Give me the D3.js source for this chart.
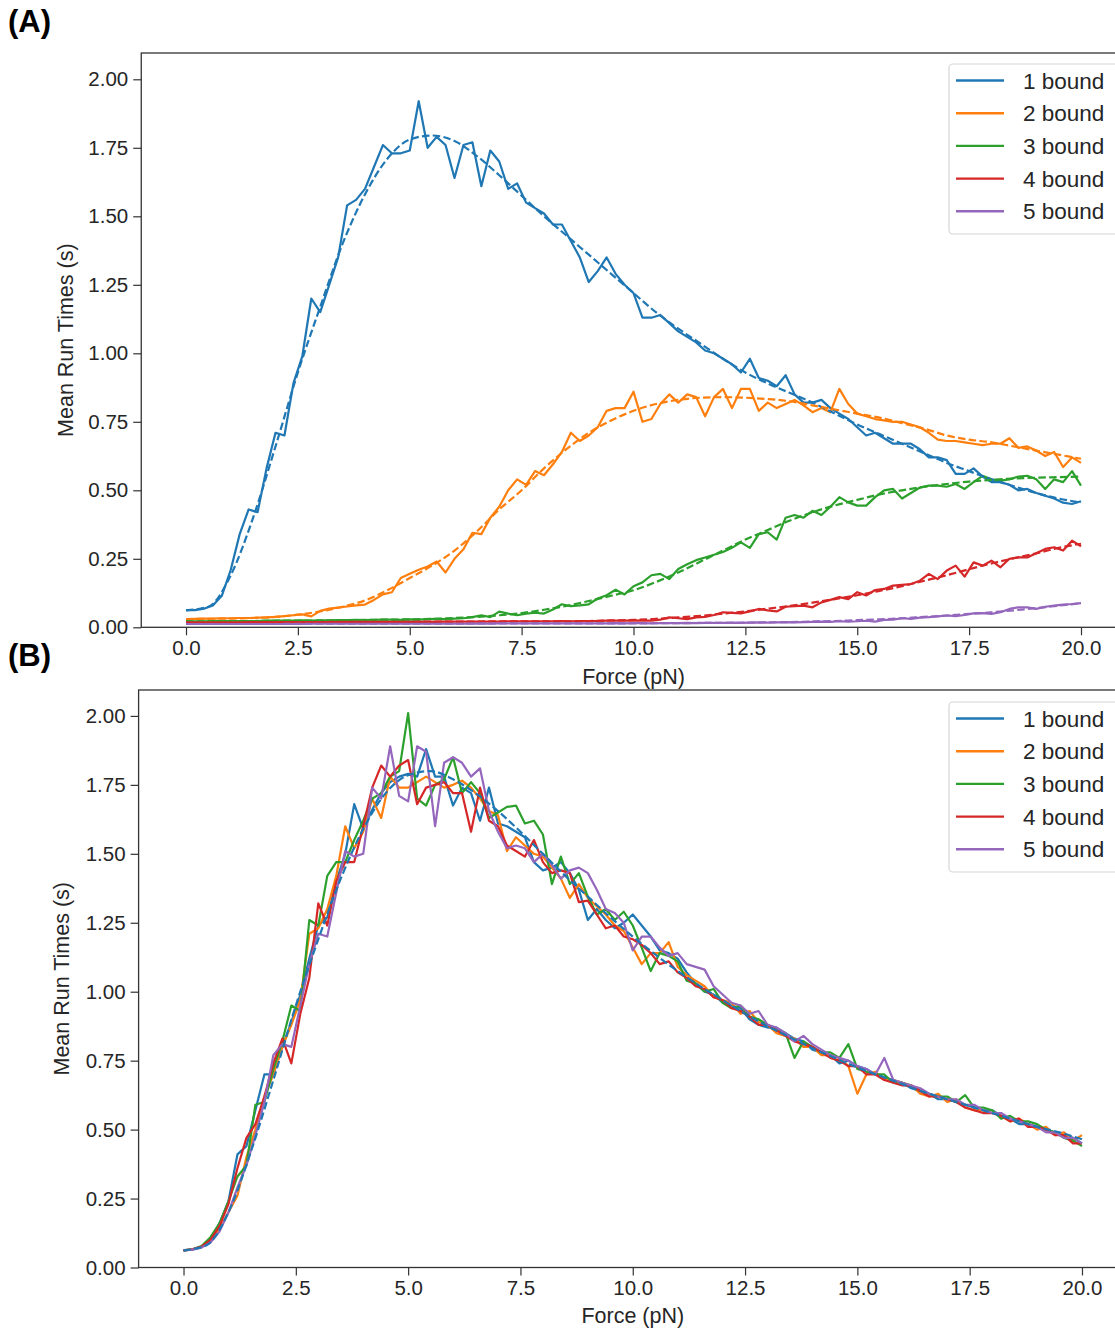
<!DOCTYPE html>
<html><head><meta charset="utf-8">
<script src="https://cdn.jsdelivr.net/npm/d3@7"></script>
<style>
body{margin:0;background:#fff;overflow:hidden;}
svg{display:block;font-family:"Liberation Sans",Arial,sans-serif;}
</style>
</head><body>
<svg id="chart" width="1115" height="1329"></svg>
<script>
const seriesNames = ["1 bound","2 bound","3 bound","4 bound","5 bound"];
const seriesColors = ["#1f77b4","#ff7f0e","#2ca02c","#d62728","#9467bd"];
const xTickValues = [0,2.5,5,7.5,10,12.5,15,17.5,20];
const yTickValues = [0,0.25,0.5,0.75,1,1.25,1.5,1.75,2];
const xLabel = "Force (pN)";
const yLabel = "Mean Run Times (s)";
// force grids (pN)
const forceGrid = d3.range(0,101).map(i => +(i*0.2).toFixed(1));
const fitGrid = d3.range(0,41).map(i => i*0.5);

// ---- Panel A : measured mean run times ----
const aBound1 = [0.063,0.063,0.068,0.080,0.115, 0.21,0.34,0.43,0.42,0.58, 0.71,0.70,0.89,0.99,1.20,
 1.15,1.25,1.35,1.54,1.56, 1.60,1.68,1.76,1.73,1.73, 1.74,1.92,1.75,1.79,1.76, 1.64,1.76,1.77,1.61,1.74,
 1.70,1.60,1.62,1.55,1.53, 1.51,1.47,1.47,1.41,1.35, 1.26,1.30,1.35,1.29,1.25, 1.22,1.13,1.13,1.14,1.11,
 1.08,1.06,1.04,1.01,1.00, 0.98,0.96,0.93,0.98,0.91, 0.90,0.88,0.92,0.85,0.82, 0.82,0.83,0.80,0.78,0.76,
 0.73,0.70,0.71,0.69,0.67, 0.67,0.67,0.65,0.62,0.62, 0.61,0.56,0.56,0.58,0.55, 0.53,0.53,0.52,0.50,0.505,
 0.49,0.48,0.47,0.455,0.45, 0.46];
const aBound2 = [0.030,0.031,0.032,0.032,0.033, 0.033,0.034,0.034,0.035,0.036, 0.038,0.041,0.044,0.047,0.040,
 0.060,0.068,0.072,0.076,0.080, 0.083,0.100,0.120,0.128,0.180, 0.195,0.210,0.222,0.240,0.200,
 0.250,0.285,0.345,0.340,0.400, 0.440,0.500,0.540,0.520,0.570, 0.555,0.595,0.640,0.710,0.680,
 0.700,0.730,0.790,0.800,0.800, 0.860,0.750,0.760,0.815,0.850, 0.820,0.850,0.840,0.770,0.840,
 0.870,0.800,0.870,0.870,0.790, 0.820,0.800,0.815,0.830,0.810, 0.785,0.800,0.785,0.870,0.815,
 0.780,0.770,0.760,0.755,0.750, 0.750,0.740,0.730,0.710,0.685, 0.680,0.680,0.675,0.670,0.665,
 0.670,0.670,0.690,0.655,0.660, 0.645,0.625,0.640,0.585,0.620, 0.600];
const aBound3 = [0.022,0.022,0.022,0.023,0.023, 0.023,0.023,0.023,0.023,0.024, 0.024,0.024,0.024,0.025,0.024,
 0.025,0.025,0.026,0.026,0.027, 0.026,0.027,0.028,0.028,0.027, 0.029,0.028,0.030,0.031,0.030,
 0.032,0.033,0.037,0.044,0.037, 0.057,0.050,0.044,0.050,0.053, 0.050,0.065,0.084,0.077,0.080,
 0.084,0.105,0.117,0.137,0.120, 0.150,0.164,0.190,0.195,0.176, 0.213,0.230,0.245,0.255,0.265,
 0.275,0.290,0.310,0.290,0.340, 0.347,0.320,0.400,0.410,0.400, 0.425,0.410,0.440,0.475,0.456,
 0.444,0.444,0.475,0.500,0.505, 0.470,0.490,0.510,0.517,0.517, 0.513,0.523,0.505,0.530,0.553,
 0.540,0.535,0.540,0.550,0.553, 0.540,0.505,0.540,0.530,0.570, 0.517];
const aBound4 = [0.018,0.018,0.018,0.018,0.018, 0.018,0.018,0.019,0.019,0.019, 0.019,0.019,0.019,0.019,0.019,
 0.019,0.019,0.019,0.020,0.020, 0.020,0.020,0.020,0.020,0.020, 0.020,0.020,0.020,0.020,0.021,
 0.021,0.021,0.021,0.021,0.021, 0.021,0.022,0.022,0.022,0.022, 0.022,0.022,0.023,0.022,0.023,
 0.023,0.023,0.024,0.024,0.024, 0.025,0.024,0.024,0.028,0.036, 0.033,0.030,0.036,0.038,0.045,
 0.055,0.053,0.051,0.058,0.067, 0.062,0.058,0.075,0.077,0.079, 0.073,0.091,0.100,0.110,0.103,
 0.128,0.116,0.136,0.140,0.152, 0.155,0.158,0.170,0.195,0.176, 0.207,0.225,0.185,0.237,0.225,
 0.243,0.219,0.250,0.255,0.255, 0.270,0.286,0.292,0.280,0.316, 0.296];
const aBound5 = [0.012,0.012,0.012,0.012,0.012, 0.012,0.012,0.012,0.012,0.012, 0.012,0.012,0.012,0.012,0.013,
 0.013,0.013,0.013,0.013,0.013, 0.013,0.013,0.013,0.013,0.013, 0.013,0.013,0.013,0.013,0.013,
 0.013,0.013,0.013,0.014,0.013, 0.014,0.014,0.014,0.014,0.014, 0.014,0.014,0.014,0.014,0.014,
 0.014,0.014,0.014,0.015,0.014, 0.015,0.015,0.014,0.015,0.015, 0.015,0.016,0.015,0.016,0.016,
 0.016,0.017,0.016,0.017,0.018, 0.017,0.018,0.019,0.018,0.019, 0.020,0.021,0.020,0.022,0.021,
 0.022,0.024,0.021,0.027,0.028, 0.033,0.031,0.035,0.037,0.040, 0.043,0.041,0.045,0.051,0.052,
 0.049,0.055,0.067,0.073,0.073, 0.067,0.075,0.079,0.083,0.085, 0.088];

// ---- Panel A : fitted curves (every 0.5 pN) ----
const aFit1 = [0.062,0.075,0.19,0.40,0.66,0.93,1.17,1.40,1.58,1.71,1.78,1.795,1.775,1.72,1.65,1.575,1.50,1.43,1.36,1.29,
 1.22,1.15,1.09,1.035,0.98,0.93,0.89,0.855,0.82,0.78,0.74,0.705,0.67,0.635,0.60,0.57,0.54,0.515,0.49,0.47,0.455];
const aFit2 = [0.030,0.031,0.032,0.034,0.038,0.046,0.058,0.075,0.098,0.135,0.18,0.225,0.28,0.35,0.43,0.50,0.58,0.65,0.71,0.755,
 0.79,0.815,0.83,0.838,0.84,0.838,0.833,0.825,0.81,0.795,0.78,0.765,0.745,0.725,0.70,0.685,0.675,0.66,0.645,0.63,0.615];
const aFit3 = [0.022,0.022,0.023,0.023,0.024,0.024,0.025,0.026,0.027,0.028,0.029,0.031,0.034,0.038,0.044,0.052,0.064,0.078,0.096,0.115,
 0.135,0.165,0.20,0.24,0.28,0.32,0.355,0.39,0.42,0.445,0.465,0.485,0.50,0.513,0.523,0.532,0.538,0.543,0.546,0.548,0.55];
const aFit4 = [0.018,0.018,0.018,0.019,0.019,0.019,0.019,0.020,0.020,0.020,0.020,0.021,0.021,0.021,0.022,0.022,0.022,0.022,0.023,0.025,
 0.027,0.031,0.036,0.042,0.050,0.058,0.068,0.078,0.090,0.103,0.117,0.133,0.150,0.170,0.190,0.212,0.233,0.252,0.270,0.290,0.305];
const aFit5 = [0.012,0.012,0.012,0.012,0.012,0.013,0.013,0.013,0.013,0.013,0.013,0.013,0.013,0.014,0.014,0.014,0.014,0.014,0.014,0.014,
 0.014,0.015,0.015,0.016,0.016,0.017,0.018,0.019,0.021,0.023,0.026,0.029,0.033,0.038,0.043,0.049,0.055,0.062,0.070,0.079,0.088];

// ---- Panel B : measured mean run times ----
const bBound1 = [0.063,0.065,0.075,0.10,0.16, 0.24,0.41,0.44,0.57,0.70, 0.70,0.80,0.89,0.99,1.12,
 1.24,1.27,1.40,1.50,1.68, 1.59,1.66,1.72,1.76,1.78, 1.79,1.78,1.88,1.78,1.78, 1.675,1.74,1.72,1.62,1.74,
 1.61,1.60,1.58,1.56,1.47, 1.44,1.45,1.47,1.43,1.37, 1.26,1.30,1.26,1.23,1.25, 1.28,1.24,1.20,1.15,1.14,
 1.12,1.07,1.03,1.00,0.99, 0.96,0.95,0.94,0.90,0.88, 0.87,0.87,0.85,0.83,0.82, 0.79,0.78,0.77,0.74,0.75,
 0.73,0.72,0.70,0.69,0.68, 0.67,0.65,0.64,0.63,0.61, 0.61,0.60,0.59,0.58,0.57, 0.57,0.55,0.54,0.52,0.52,
 0.51,0.50,0.49,0.48,0.47, 0.45];
const bBound2 = [0.062,0.066,0.075,0.095,0.14, 0.20,0.26,0.40,0.50,0.62, 0.70,0.80,0.88,0.97,1.21,
 1.23,1.30,1.42,1.60,1.52, 1.58,1.70,1.63,1.78,1.74, 1.74,1.76,1.78,1.76,1.74, 1.75,1.765,1.74,1.70,1.655,
 1.64,1.51,1.56,1.53,1.50, 1.49,1.45,1.41,1.34,1.39, 1.34,1.31,1.28,1.24,1.22, 1.16,1.10,1.14,1.14,1.18,
 1.09,1.06,1.04,1.02,0.98, 0.97,0.96,0.92,0.93,0.89, 0.88,0.85,0.84,0.83,0.80, 0.80,0.77,0.77,0.76,0.73,
 0.63,0.70,0.71,0.68,0.68, 0.67,0.66,0.63,0.62,0.63, 0.60,0.61,0.58,0.57,0.57, 0.56,0.55,0.53,0.54,0.52,
 0.50,0.51,0.48,0.49,0.46, 0.48];
const bBound3 = [0.062,0.066,0.078,0.11,0.16, 0.24,0.33,0.37,0.59,0.60, 0.72,0.82,0.95,0.93,1.26,
 1.24,1.42,1.47,1.47,1.55, 1.62,1.70,1.72,1.78,1.80, 2.01,1.70,1.675,1.75,1.77, 1.85,1.72,1.76,1.72,1.63,
 1.65,1.67,1.675,1.61,1.62, 1.57,1.39,1.49,1.39,1.43, 1.345,1.28,1.30,1.26,1.29, 1.24,1.16,1.075,1.14,1.13,
 1.11,1.04,1.03,1.00,1.01, 0.96,0.94,0.95,0.91,0.90, 0.88,0.86,0.85,0.76,0.82, 0.80,0.78,0.78,0.76,0.81,
 0.72,0.71,0.70,0.70,0.67, 0.67,0.66,0.64,0.63,0.62, 0.62,0.60,0.625,0.58,0.58, 0.57,0.54,0.55,0.53,0.53,
 0.52,0.50,0.49,0.47,0.46, 0.44];
const bBound4 = [0.062,0.066,0.076,0.10,0.15, 0.23,0.36,0.47,0.52,0.62, 0.74,0.83,0.74,0.92,1.05,
 1.32,1.24,1.40,1.47,1.47, 1.60,1.74,1.82,1.78,1.82, 1.84,1.68,1.74,1.75,1.76, 1.72,1.72,1.58,1.74,1.62,
 1.60,1.53,1.51,1.49,1.55, 1.47,1.43,1.44,1.43,1.325, 1.33,1.28,1.23,1.24,1.20, 1.19,1.17,1.14,1.10,1.11,
 1.07,1.05,1.02,1.01,0.98, 0.97,0.94,0.93,0.91,0.88, 0.88,0.86,0.84,0.82,0.81, 0.80,0.78,0.76,0.75,0.73,
 0.73,0.70,0.70,0.68,0.67, 0.66,0.66,0.64,0.62,0.62, 0.61,0.60,0.58,0.57,0.56, 0.56,0.55,0.53,0.54,0.51,
 0.51,0.50,0.48,0.48,0.45, 0.45];
const bBound5 = [0.062,0.065,0.072,0.09,0.13, 0.20,0.29,0.37,0.48,0.60, 0.77,0.81,0.80,0.95,1.10,
 1.21,1.20,1.36,1.51,1.49, 1.50,1.74,1.70,1.89,1.71, 1.69,1.89,1.87,1.60,1.83, 1.85,1.83,1.78,1.81,1.655,
 1.58,1.52,1.53,1.52,1.47, 1.50,1.46,1.41,1.44,1.45, 1.43,1.37,1.30,1.285,1.25, 1.15,1.20,1.20,1.16,1.13,
 1.14,1.10,1.09,1.08,1.02, 0.99,0.96,0.95,0.92,0.93, 0.88,0.87,0.85,0.82,0.84, 0.81,0.79,0.77,0.76,0.75,
 0.73,0.72,0.70,0.76,0.68, 0.67,0.66,0.65,0.63,0.62, 0.61,0.61,0.59,0.59,0.57, 0.56,0.56,0.54,0.53,0.52,
 0.51,0.49,0.49,0.47,0.47, 0.45];
// ---- Panel B : fitted curve (every 0.5 pN) ----
const bFit1 = [0.062,0.08,0.20,0.42,0.68,0.95,1.19,1.41,1.59,1.72,1.785,1.80,1.77,1.72,1.655,1.58,1.50,1.42,1.345,1.27,
 1.20,1.135,1.075,1.02,0.97,0.92,0.875,0.835,0.795,0.76,0.725,0.695,0.665,0.635,0.61,0.585,0.56,0.535,0.51,0.49,0.465];

const panels = [
  {tag:"(A)", tagY:32, xr:[141.25,1125.75], yr:[627.3,53], ydom:[0,2.096],
   series:[aBound1,aBound2,aBound3,aBound4,aBound5], fits:[aFit1,aFit2,aFit3,aFit4,aFit5],
   ylabX:65, xlabY:684, legTop:64},
  {tag:"(B)", tagY:666, xr:[138.6,1126.9], yr:[1267.5,690], ydom:[0,2.094],
   series:[bBound1,bBound2,bBound3,bBound4,bBound5], fits:[bFit1,null,null,null,null],
   ylabX:61, xlabY:1323, legTop:702}
];

const svg = d3.select("#chart");
const ink = "#262626";

panels.forEach(p => {
  const x = d3.scaleLinear().domain([-1,21]).range(p.xr);
  const y = d3.scaleLinear().domain(p.ydom).range(p.yr);
  const g = svg.append("g");

  // lines: measured (solid) then fits (dashed)
  const solid = d3.line().x((d,i)=>x(forceGrid[i])).y(d=>y(d));
  const smooth = d3.line().x((d,i)=>x(fitGrid[i])).y(d=>y(d)).curve(d3.curveMonotoneX);
  p.series.forEach((s,k) => {
    g.append("path").attr("d", solid(s)).attr("fill","none")
      .attr("stroke", seriesColors[k]).attr("stroke-width",2.2).attr("stroke-linejoin","round");
  });
  p.fits.forEach((f,k) => {
    if (!f) return;
    g.append("path").attr("d", smooth(f)).attr("fill","none")
      .attr("stroke", seriesColors[k]).attr("stroke-width",2.2).attr("stroke-dasharray","7.5,3.3");
  });

  // axes
  const xa = d3.axisBottom(x).tickValues(xTickValues).tickFormat(d3.format(".1f")).tickSize(8).tickPadding(5);
  const ya = d3.axisLeft(y).tickValues(yTickValues).tickFormat(d3.format(".2f")).tickSize(8).tickPadding(5);
  const gx = g.append("g").attr("transform",`translate(0,${p.yr[0]})`).call(xa);
  const gy = g.append("g").attr("transform",`translate(${p.xr[0]},0)`).call(ya);
  [gx,gy].forEach(a => {
    a.select(".domain").remove();
    a.selectAll(".tick line").attr("stroke","#333").attr("stroke-width",1.2);
    a.selectAll(".tick text").attr("fill",ink).style("font-size","20.5px").style("font-family",'"Liberation Sans",Arial,sans-serif');
  });
  // spines
  g.append("rect").attr("x",p.xr[0]).attr("y",p.yr[1]).attr("width",p.xr[1]-p.xr[0]).attr("height",p.yr[0]-p.yr[1])
    .attr("fill","none").attr("stroke","#333").attr("stroke-width",1.3);

  // labels
  g.append("text").attr("x",(p.xr[0]+p.xr[1])/2).attr("y",p.xlabY).attr("text-anchor","middle")
    .attr("fill",ink).style("font-size","21.5px").text(xLabel);
  g.append("text").attr("transform",`translate(${p.ylabX},${(p.yr[0]+p.yr[1])/2}) rotate(-90)`)
    .attr("text-anchor","middle").attr("dy","0.35em").attr("fill",ink).style("font-size","21.5px").text(yLabel);
  svg.append("text").attr("x",8).attr("y",p.tagY).attr("fill","#000").style("font-size","31px")
    .style("font-weight","bold").text(p.tag);

  // legend
  const lg = g.append("g");
  lg.append("rect").attr("x",949).attr("y",p.legTop).attr("width",172).attr("height",170).attr("rx",4)
    .attr("fill","#fff").attr("fill-opacity",0.85).attr("stroke","#d6d6d6").attr("stroke-width",1.2);
  seriesNames.forEach((nm,k) => {
    const yy = p.legTop + 16.5 + k*32.7;
    lg.append("line").attr("x1",956).attr("x2",1004).attr("y1",yy).attr("y2",yy)
      .attr("stroke",seriesColors[k]).attr("stroke-width",2.4);
    lg.append("text").attr("x",1023).attr("y",yy).attr("dy","0.36em").attr("fill",ink)
      .style("font-size","22.5px").text(nm);
  });
});
</script>
</body></html>
